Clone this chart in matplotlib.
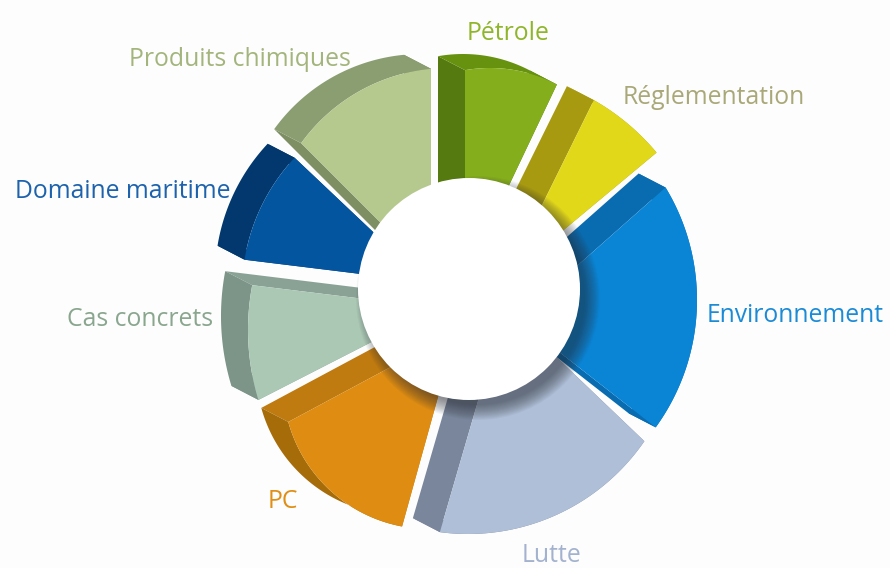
#!/usr/bin/python3
# -*- coding: utf-8 -*-
import numpy as np
import matplotlib
matplotlib.use("Agg")
import matplotlib.pyplot as plt
from matplotlib.patches import Circle

plt.rcParams['font.family'] = ['Open Sans', 'DejaVu Sans']

labels = ["Pétrole", "Réglementation", "Environnement", "Lutte", "PC",
          "Cas concrets", "Domaine maritime", "Produits chimiques"]
# slice sizes, degrees
shares = [25.4, 23.9, 79.5, 62.5, 46.3, 34.1, 36.4, 45.0]

# layout of each slice, the drawing has a fake 3d perspective so nothing is concentric
start_angle = [0.0, 26.3, 48.5, 133.7, 195.5, 242.9, 277.0, 315.0]
apex_x = [465, 506, 517, 505, 456, 438, 426, 431]
apex_y = [278, 278, 319, 308, 332, 308, 282, 273]
arc_x = [490, 480, 480, 468, 429, 488, 437, 448]
arc_y = [212, 300, 300, 320, 383, 330, 291, 249]
arc_r = [144, 230, 217, 214, 146, 240, 195, 181]

face_colors = ["#85ae1c", "#e2d81a", "#0a85d6", "#afbfd8", "#de8c12",
               "#abc8b4", "#03559f", "#b5c98f"]
edge_colors = ["#557a10", "#a89a10", "#0a6cb0", "#7a869c", "#bf7a10",
               "#8aa295", "#02386e", "#7e8f64"]
rim_colors = ["#67920f", "#a89a10", "#0a6cb0", "#7a869c", "#a66c0a",
              "#7d9488", "#02386e", "#8b9e72"]
text_colors = ["#8fb52a", "#a9a878", "#1b8bd6", "#a3b2cf", "#e08e14",
               "#8aa68f", "#1d62ac", "#a3b57c"]
label_x = [508, 714, 795, 551, 283, 140, 123, 240]
label_y = [33, 98, 315, 556, 501, 320, 192, 60]

shift = np.array([-27.0, -14.0])  # front face to back face

fig = plt.figure(figsize=(8.9, 5.68), dpi=100, facecolor="#fdfdfd")
ax = fig.add_axes([0, 0, 1, 1])
ax.set_xlim(0, 890)
ax.set_ylim(568, 0)
ax.axis("off")


def arc_points(i):
    # rays from the apex, stopped on the slice's own outer circle
    a = np.radians(np.linspace(start_angle[i], start_angle[i] + shares[i], 80))
    d = np.column_stack([np.sin(a), -np.cos(a)])
    p = np.array([apex_x[i] - arc_x[i], apex_y[i] - arc_y[i]], dtype=float)
    b = d @ p
    t = -b + np.sqrt(b ** 2 - p @ p + arc_r[i] ** 2)
    return np.array([apex_x[i], apex_y[i]]) + d * t[:, None]


for i in range(len(labels)):
    arc = arc_points(i)
    apex = np.array([apex_x[i], apex_y[i]], dtype=float)
    for tip in (arc[0], arc[-1]):
        quad = np.array([apex, tip, tip + shift, apex + shift])
        ax.fill(quad[:, 0], quad[:, 1], color=edge_colors[i], lw=0)
    band = np.vstack([arc, (arc + shift)[::-1]])
    ax.fill(band[:, 0], band[:, 1], color=rim_colors[i], lw=0)
    face = np.vstack([apex, arc])
    ax.fill(face[:, 0], face[:, 1], color=face_colors[i], lw=0)
    ax.text(label_x[i], label_y[i], labels[i], color=text_colors[i], fontsize=17.8,
            ha="center", va="center")

# soft shadow of the hole, falls to the lower right
for r in range(122, 106, -1):
    ax.add_patch(Circle((478, 298), r, fc="#2a2d35", alpha=0.045, ec="none"))
ax.add_patch(Circle((469, 289), 111, fc="white", ec="none"))

fig.savefig("out.png", dpi=100, facecolor=fig.get_facecolor())
